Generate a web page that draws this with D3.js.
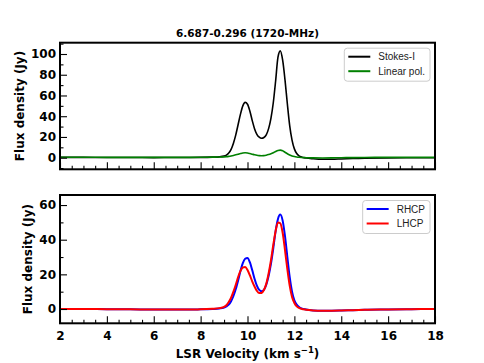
<!DOCTYPE html>
<html>
<head>
<meta charset="utf-8">
<script src="https://cdn.jsdelivr.net/npm/d3@7"></script>
<style>
  html, body { margin: 0; padding: 0; background: #fff; }
  svg { display: block; }
</style>
</head>
<body>
<svg id="chart" width="484" height="363"></svg>
<script>
// ---------------- DATA ----------------
const titleText = "6.687-0.296 (1720-MHz)";
const velocity = [2,3,4,5,6,7,8,8.5,8.8,
  9.0,9.1,9.2,9.3,9.4,9.5,9.6,9.7,9.8,9.9,10.0,10.1,10.2,10.3,10.4,10.5,10.6,10.7,10.8,10.9,
  11.0,11.1,11.2,11.3,11.4,11.5,11.6,11.7,11.8,11.9,12.0,12.1,12.2,12.3,
  12.5,12.8,13.2,13.6,14,14.5,15,16,17,18];
const stokesI = [0.3,0.3,0.2,0.2,0.1,0.2,0.3,0.5,0.8,
  1.5,2.5,4.5,8,14,22,32,42,50,53.3,51.5,45,36,28,22.5,19.8,18.8,19.5,22,28,
  38,53,74,97,103,94,75,52,31,17,8.5,4,1.8,0.7,
  -0.3,-1,-1.5,-1.5,-1.2,-0.8,-0.5,-0.2,0,0];
const linearPol = [0.4,0.4,0.3,0.3,0.3,0.3,0.4,0.5,0.6,
  0.8,1.0,1.3,1.7,2.2,2.8,3.4,4.0,4.5,4.7,4.5,4.0,3.4,2.8,2.3,2.0,1.9,2.0,2.4,3.0,
  3.8,4.8,6.0,7.0,7.3,6.6,5.2,3.8,2.6,1.7,1.1,0.7,0.4,0.2,
  0,-0.2,-0.3,-0.2,0,0.1,0.2,0.3,0.3,0.3];
const rhcp = [0,0,-0.1,-0.2,-0.3,-0.3,-0.2,0,0.3,
  0.8,1.5,2.5,4.5,7.5,11.5,16.5,22,26.5,29,29.5,27,22.5,17.5,13.5,11,10.2,11,14,19,
  26,35,45,52,54.5,51,42,30,18.5,10,5,2.5,1.2,0.4,
  -0.3,-0.8,-1,-1,-0.9,-0.7,-0.5,-0.3,-0.1,0];
const lhcp = [0,0,-0.1,-0.2,-0.3,-0.3,-0.2,0.1,0.5,
  1.2,2.2,4,6.5,10,14,18.5,22,24,24.2,22.5,19.5,16,13,10.5,9.2,9.3,11,14.5,20.5,
  28,37,45,50,49.5,44,34,23,13.5,7,3.5,1.5,0.6,0.1,
  -0.4,-0.8,-1,-1,-0.9,-0.7,-0.5,-0.3,-0.1,0];
const xTicks = [2,4,6,8,10,12,14,16,18];
const topYTicks = [0,20,40,60,80,100];
const botYTicks = [0,20,40,60];
const topLegend = ["Stokes-I","Linear pol."];
const botLegend = ["RHCP","LHCP"];

// ---------------- LAYOUT ----------------
const svg = d3.select("#chart");
const L = 60, R = 435;
const panels = [
  { top: 42.7, bottom: 169.3, domain: [-11.2, 110.9], yTicks: topYTicks, minor: 10,
    series: [{v: stokesI, c: "#000000", w: 1.6}, {v: linearPol, c: "#008000", w: 1.6}],
    legend: topLegend, legendColors: ["#000000", "#008000"], labels: false, ylabX: 24 },
  { top: 195, bottom: 323.3, domain: [-8.25, 65.8], yTicks: botYTicks, minor: 10,
    series: [{v: rhcp, c: "#0000ff", w: 2}, {v: lhcp, c: "#ff0000", w: 2}],
    legend: botLegend, legendColors: ["#0000ff", "#ff0000"], labels: true, ylabX: 32 }
];

const x = d3.scaleLinear().domain([2, 18]).range([L, R]);
const xMinor = d3.range(2, 18.01, 0.5).filter(d => Math.abs(d % 2) > 1e-6);
const tickFont = "DejaVu Sans, sans-serif";

panels.forEach((p, i) => {
  const y = d3.scaleLinear().domain(p.domain).range([p.bottom, p.top]);
  const g = svg.append("g");
  const clipId = "clip" + i;
  svg.append("clipPath").attr("id", clipId).append("rect")
    .attr("x", L).attr("y", p.top).attr("width", R - L).attr("height", p.bottom - p.top);

  // series
  const line = d3.line().x((d, j) => x(velocity[j])).y(d => y(d)).curve(d3.curveMonotoneX);
  p.series.forEach(s => {
    g.append("path").datum(s.v).attr("d", line)
      .attr("fill", "none").attr("stroke", s.c).attr("stroke-width", s.w)
      .attr("stroke-linejoin", "round").attr("clip-path", `url(#${clipId})`);
  });

  // x axis (major inward)
  const xa = g.append("g").attr("transform", `translate(0,${p.bottom})`)
    .call(d3.axisBottom(x).tickValues(xTicks).tickSize(-7).tickPadding(8)
      .tickFormat(p.labels ? d3.format("d") : () => ""));
  const xm = g.append("g").attr("transform", `translate(0,${p.bottom})`)
    .call(d3.axisBottom(x).tickValues(xMinor).tickSize(-3.5).tickFormat(() => ""));

  // y axis
  const yMinorVals = d3.range(Math.ceil(p.domain[0] / p.minor) * p.minor, p.domain[1], p.minor)
    .filter(d => Math.abs(d % 20) > 1e-6);
  const ya = g.append("g").attr("transform", `translate(${L},0)`)
    .call(d3.axisLeft(y).tickValues(p.yTicks).tickSize(-7).tickPadding(4).tickFormat(d3.format("d")));
  const ym = g.append("g").attr("transform", `translate(${L},0)`)
    .call(d3.axisLeft(y).tickValues(yMinorVals).tickSize(-3.5).tickFormat(() => ""));

  [xa, xm, ya, ym].forEach(a => {
    a.select(".domain").remove();
    a.selectAll(".tick line").attr("stroke", "#000").attr("stroke-width", 1.1);
    a.selectAll("text").attr("font-family", tickFont).attr("font-weight", "bold")
      .attr("font-size", 12).attr("fill", "#000");
  });

  // frame
  g.append("rect").attr("x", L).attr("y", p.top).attr("width", R - L).attr("height", p.bottom - p.top)
    .attr("fill", "none").attr("stroke", "#000").attr("stroke-width", 2);

  // y label
  g.append("text")
    .attr("transform", `translate(${p.ylabX},${(p.top + p.bottom) / 2}) rotate(-90)`)
    .attr("text-anchor", "middle").attr("font-family", tickFont).attr("font-weight", "bold")
    .attr("font-size", 12).text("Flux density (Jy)");

  // legend
  const lg = g.append("g");
  const rowY0 = p.top + 14, rowGap = 14.5;
  const texts = p.legend.map((t, j) => lg.append("text")
    .attr("x", 0).attr("y", rowY0 + j * rowGap).attr("dy", "0.35em")
    .attr("font-family", "Liberation Sans, Arial, sans-serif").attr("font-size", 10)
    .attr("fill", "#222").text(t));
  const maxW = d3.max(texts, t => t.node().getComputedTextLength());
  const boxRight = R - 5;
  const textX = boxRight - 5 - maxW;
  const boxLeft = textX - 34;
  texts.forEach(t => t.attr("x", textX));
  lg.insert("rect", ":first-child")
    .attr("x", boxLeft).attr("y", p.top + 5.5).attr("width", boxRight - boxLeft)
    .attr("height", rowY0 + rowGap + 10 - (p.top + 5.5))
    .attr("rx", 3).attr("fill", "#fff").attr("fill-opacity", 0.8)
    .attr("stroke", "#cccccc").attr("stroke-width", 1);
  p.legendColors.forEach((c, j) => {
    lg.append("line").attr("x1", boxLeft + 4).attr("x2", boxLeft + 26)
      .attr("y1", rowY0 + j * rowGap).attr("y2", rowY0 + j * rowGap)
      .attr("stroke", c).attr("stroke-width", 2);
  });
});

// title
svg.append("text").attr("x", (L + R) / 2).attr("y", 37).attr("text-anchor", "middle")
  .attr("font-family", tickFont).attr("font-weight", "bold").attr("font-size", 10.5)
  .text(titleText);

// x label
const xl = svg.append("text").attr("x", (L + R) / 2).attr("y", 358).attr("text-anchor", "middle")
  .attr("font-family", tickFont).attr("font-weight", "bold").attr("font-size", 12);
xl.append("tspan").text("LSR Velocity (km s");
xl.append("tspan").attr("dy", -5).attr("font-size", 8.5).text("\u22121");
xl.append("tspan").attr("dy", 5).text(")");
</script>
</body>
</html>
